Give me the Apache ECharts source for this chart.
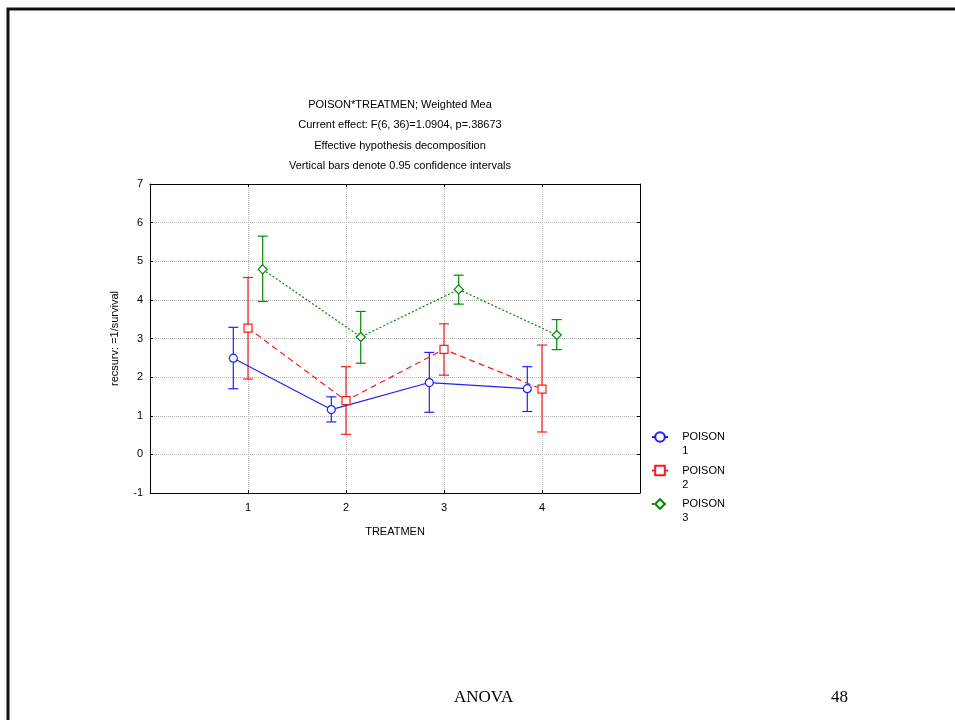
<!DOCTYPE html>
<html>
<head>
<meta charset="utf-8">
<script src="https://cdn.jsdelivr.net/npm/echarts@6/dist/echarts.min.js"></script>
<style>
  html, body { margin: 0; padding: 0; background: #fff; }
  #main { width: 955px; height: 720px; }
</style>
</head>
<body>
<div id="main"></div>
<script>
// treatment levels and small x offsets per poison group
var treatments = [1, 2, 3, 4];
var offsets = [-0.15, 0, 0.15];
var poisonNames = ['POISON 1', 'POISON 2', 'POISON 3'];
var yTicks = [-1, 0, 1, 2, 3, 4, 5, 6, 7];

// weighted means
var mean1 = [2.49, 1.16, 1.86, 1.70];
var mean2 = [3.27, 1.39, 2.72, 1.69];
var mean3 = [4.79, 3.04, 4.27, 3.09];

// 0.95 confidence limits
var low1 = [1.70, 0.84, 1.09, 1.11];
var high1 = [3.29, 1.49, 2.64, 2.27];
var low2 = [1.95, 0.52, 2.05, 0.58];
var high2 = [4.58, 2.27, 3.38, 2.83];
var low3 = [3.96, 2.36, 3.89, 2.71];
var high3 = [5.65, 3.70, 4.64, 3.49];

var colors = ['#1f1fff', '#ff1a1a', '#008a00'];
var symbols = ['circle', 'rect', 'diamond'];
var lineTypes = ['solid', [6, 4], [2, 2]];

var means = [mean1, mean2, mean3];
var lows = [low1, low2, low3];
var highs = [high1, high2, high3];

var myChart = echarts.init(document.getElementById('main'));

function renderErr(params, api) {
  var x = api.value(0);
  var lo = api.coord([x, api.value(1)]);
  var hi = api.coord([x, api.value(2)]);
  var w = 5;
  var style = { stroke: api.visual('color'), lineWidth: 1.2 };
  return {
    type: 'group',
    children: [
      { type: 'line', shape: { x1: lo[0], y1: lo[1], x2: hi[0], y2: hi[1] }, style: style },
      { type: 'line', shape: { x1: lo[0] - w, y1: lo[1], x2: lo[0] + w, y2: lo[1] }, style: style },
      { type: 'line', shape: { x1: hi[0] - w, y1: hi[1], x2: hi[0] + w, y2: hi[1] }, style: style }
    ]
  };
}

var series = [];
var legends = [];
for (var i = 0; i < 3; i++) {
  var lineData = [], errData = [];
  for (var j = 0; j < treatments.length; j++) {
    var x = treatments[j] + offsets[i];
    lineData.push([x, means[i][j]]);
    errData.push([x, lows[i][j], highs[i][j]]);
  }
  series.push({
    name: 'err' + i,
    type: 'custom',
    renderItem: renderErr,
    itemStyle: { color: colors[i] },
    data: errData,
    z: 2,
    silent: true
  });
  series.push({
    name: poisonNames[i],
    type: 'line',
    data: lineData,
    symbol: symbols[i],
    symbolSize: symbols[i] == 'diamond' ? 9 : 8,
    color: colors[i],
    itemStyle: { color: '#fff', borderColor: colors[i], borderWidth: 1.2 },
    lineStyle: { color: colors[i], width: 1.2, type: lineTypes[i] },
    z: 3,
    silent: true
  });
  // one legend per group so the icon sits on the first text line
  legends.push({
    data: [poisonNames[i]],
    left: 646,
    top: 411 + i * 33.5,
    padding: 5,
    itemWidth: 16,
    itemHeight: 12,
    selectedMode: false,
    formatter: function (name) {
      var p = name.split(' ');
      return ' \n   ' + p[0] + '\n   ' + p[1];
    },
    textStyle: {
      fontFamily: 'Liberation Sans, Arial',
      fontSize: 11,
      color: '#000',
      lineHeight: 14
    }
  });
}

var tickFont = { fontFamily: 'Liberation Sans, Arial', fontSize: 11, color: '#000' };
var gridLine = { show: true, lineStyle: { color: '#b4b4b4', type: [1, 1], width: 1 } };
var frameLine = { show: true, onZero: false, lineStyle: { color: '#000', width: 1 } };
var innerTick = { show: true, inside: true, length: 3, lineStyle: { color: '#000' } };

var option = {
  backgroundColor: '#fff',
  animation: false,
  title: {
    text: 'POISON*TREATMEN; Weighted Mea\nCurrent effect: F(6, 36)=1.0904, p=.38673\nEffective hypothesis decomposition\nVertical bars denote 0.95 confidence intervals',
    left: 395,
    top: 90,
    textAlign: 'center',
    textStyle: {
      fontFamily: 'Liberation Sans, Arial',
      fontSize: 11,
      fontWeight: 'normal',
      color: '#000',
      lineHeight: 20.3
    }
  },
  legend: legends,
  grid: { left: 150, right: 315, top: 184, bottom: 227 },
  xAxis: [{
    type: 'value',
    min: 0, max: 5, interval: 1,
    position: 'bottom',
    name: 'TREATMEN',
    nameLocation: 'middle',
    nameGap: 33,
    nameTextStyle: tickFont,
    axisLine: frameLine,
    axisTick: innerTick,
    axisLabel: {
      margin: 9,
      fontFamily: 'Liberation Sans, Arial', fontSize: 11, color: '#000',
      formatter: function (v) { return treatments.indexOf(v) >= 0 ? String(v) : ''; }
    },
    splitLine: gridLine
  }, {
    type: 'value',
    min: 0, max: 5, interval: 1,
    position: 'top',
    axisLine: frameLine,
    axisTick: innerTick,
    axisLabel: { show: false },
    splitLine: { show: false }
  }],
  yAxis: [{
    type: 'value',
    min: yTicks[0], max: yTicks[yTicks.length - 1], interval: 1,
    position: 'left',
    name: 'recsurv: =1/survival',
    nameLocation: 'middle',
    nameGap: 30,
    nameTextStyle: tickFont,
    axisLine: frameLine,
    axisTick: innerTick,
    axisLabel: { margin: 7, fontFamily: 'Liberation Sans, Arial', fontSize: 11, color: '#000' },
    splitLine: gridLine
  }, {
    type: 'value',
    min: yTicks[0], max: yTicks[yTicks.length - 1], interval: 1,
    position: 'right',
    axisLine: frameLine,
    axisTick: innerTick,
    axisLabel: { show: false },
    splitLine: { show: false }
  }],
  graphic: [
    // slide frame
    { type: 'rect', shape: { x: 8, y: 9, width: 1200, height: 1000 }, style: { fill: 'none', stroke: '#111', lineWidth: 3 }, silent: true },
    { type: 'text', left: 454, top: 689, style: { text: 'ANOVA', fontFamily: 'Liberation Serif, Times New Roman', fontSize: 17, fill: '#000', letterSpacing: 1 } },
    { type: 'text', left: 831, top: 689, style: { text: '48', fontFamily: 'Liberation Serif, Times New Roman', fontSize: 17, fill: '#000' } }
  ],
  series: series
};

myChart.setOption(option);
</script>
</body>
</html>
